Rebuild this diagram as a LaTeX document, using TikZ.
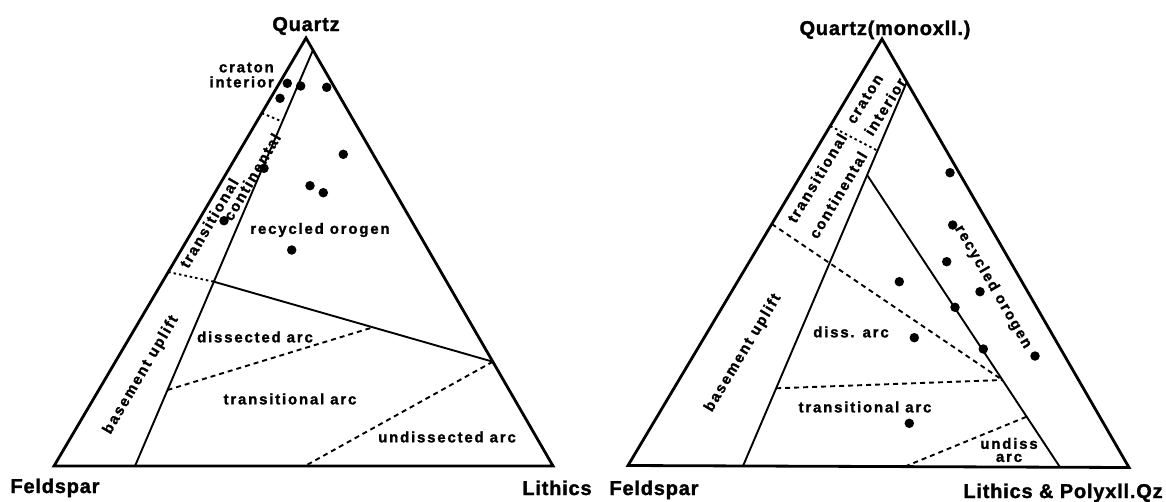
\documentclass[tikz,border=0pt]{standalone}
\usepackage{fontspec}
\setmainfont{Liberation Sans}
\newfontfamily\regf[LetterSpace=12,FakeBold=1.5]{Liberation Sans}
\newfontfamily\axf[LetterSpace=4,FakeBold=1.5]{Liberation Sans}
\tikzset{
  outer/.style={line width=2.8pt, line join=miter},
  inner/.style={line width=1.9pt},
  dsh/.style={line width=1.9pt, dash pattern=on 5pt off 4pt},
  dtt/.style={line width=1.9pt, dash pattern=on 2.5pt off 3pt},
  dot/.style={circle, fill=black, inner sep=0pt, minimum size=9.5pt},
  reg/.style={font=\regf\bfseries\fontsize{15}{15}\selectfont, inner sep=0pt, align=center},
  ax/.style={font=\axf\bfseries\fontsize{20}{20}\selectfont, inner sep=0pt, anchor=base}
}
\begin{document}
\begin{tikzpicture}[x=1pt,y=-1pt]
\useasboundingbox (0,0) rectangle (1166,501);
% ---------- left diagram ----------
\coordinate (LF) at (54,466);
\coordinate (LQ) at (306,38);
\coordinate (LL) at (553,466);
\coordinate (LI1) at (313,50);
\coordinate (LI2) at (135,466);
\coordinate (LD1) at (261.8,113);
\coordinate (LD2) at (282.3,121.7);
\coordinate (LT1) at (168.2,272);
\coordinate (LT2) at (213.9,281.7);
\coordinate (LS) at (492.8,361.7);
\coordinate (LA1) at (167.5,390);
\coordinate (LA2) at (373,327.3);
\coordinate (LB) at (305,466);
\draw[outer] (LF) -- (LQ) -- (LL) -- cycle;
\draw[inner] (LI1) -- (LI2);
\draw[inner] (LT2) -- (LS);
\draw[dtt] (LD1) -- (LD2);
\draw[dtt] (LT1) -- (LT2);
\draw[dsh] (LA1) -- (LA2);
\draw[dsh] (LS) -- (LB);
\foreach \n/\p in {a/{287.3,83.3},b/{300.7,86},c/{326.7,87.3},d/{280,98.3},e/{343.3,154.3},f/{264,168.3},g/{310,185.7},h/{323.3,192.7},i/{224,220.7},j/{291.7,250}}
  \node[dot] (L\n) at (\p) {};
\node[ax] (lq) at (306,31) {Quartz};
\node[ax] (lf) at (55,493) {Feldspar};
\node[ax] (ll) at (557,495) {Lithics};
\node[reg, align=right, anchor=east] (lcr) at (274,75) {craton\\interior};
\node[reg, rotate=59.6] (ltr) at (209,223) {transitional};
\node[reg, rotate=59.6] (lco) at (252,177) {continental};
\node[reg] (lro) at (320,230) {recycled orogen};
\node[reg] (lda) at (255,337) {dissected arc};
\node[reg] (lta) at (290,399) {transitional arc};
\node[reg] (lua) at (447,437) {undissected arc};
\node[reg, rotate=59.6] (lbu) at (141,375) {basement uplift};
% ---------- right diagram ----------
\coordinate (RF) at (628,465.5);
\coordinate (RQ) at (882,39);
\coordinate (RL) at (1129,467.5);
\coordinate (RI1) at (906.8,82);
\coordinate (RI2) at (743,466);
\coordinate (RD1) at (830.2,126);
\coordinate (RD2) at (877.5,150.7);
\coordinate (RT1) at (867.1,175);
\coordinate (RT2) at (1060,467.2);
\coordinate (RE1) at (771.8,224);
\coordinate (RE2) at (1002.4,380);
\coordinate (RH1) at (776.1,388.3);
\coordinate (RU1) at (905,466.5);
\coordinate (RU2) at (1026.6,416.7);
\draw[outer] (RF) -- (RQ) -- (RL) -- cycle;
\draw[inner] (RI1) -- (RI2);
\draw[inner] (RT1) -- (RT2);
\draw[dtt] (RD1) -- (RD2);
\draw[dsh] (RE1) -- (RE2);
\draw[dsh] (RH1) -- (RE2);
\draw[dsh] (RU1) -- (RU2);
\foreach \n/\p in {a/{950,172.7},b/{952.7,225},c/{946.7,261.7},d/{899.3,281.7},e/{980,291.7},f/{955,307.3},g/{914.3,337.7},h/{983.3,349},i/{1035,356},j/{909.3,423.3}}
  \node[dot] (R\n) at (\p) {};
\node[ax] (rq) at (885,35) {Quartz(monoxll.)};
\node[ax] (rf) at (654,495) {Feldspar};
\node[ax] (rl) at (1063,498) {Lithics \& Polyxll.Qz};
\node[reg, rotate=58] (rcr) at (865,99) {craton};
\node[reg, rotate=58] (rin) at (885,106.7) {interior};
\node[reg, rotate=59] (rtr) at (817,178) {transitional};
\node[reg, rotate=59] (rco) at (838,195) {continental};
\node[reg, rotate=59] (rbu) at (743,353) {basement uplift};
\node[reg, rotate=-60] (rro) at (993,287) {recycled orogen};
\node[reg] (rda) at (851,332) {diss. arc};
\node[reg] (rta) at (865,407) {transitional arc};
\node[reg, font=\regf\bfseries\fontsize{15}{13}\selectfont] (rua) at (1009,450) {undiss\\arc};
\end{tikzpicture}
\end{document}
